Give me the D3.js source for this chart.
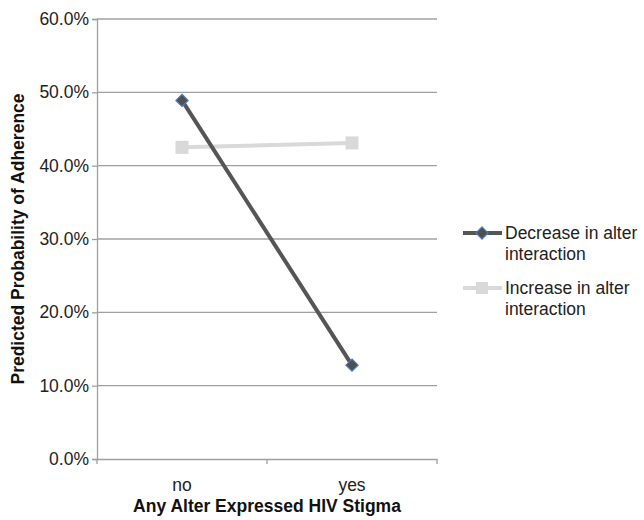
<!DOCTYPE html>
<html><head><meta charset="utf-8">
<script src="https://cdn.jsdelivr.net/npm/d3@7"></script>
<style>body{margin:0;background:#fff}svg{display:block}text{font-family:"Liberation Sans",Arial,sans-serif}</style>
</head><body><svg id="c" width="644" height="520"></svg>
<script>
const categories = ["no", "yes"];
const seriesNames = ["Decrease in alter interaction", "Increase in alter interaction"];
const decreaseValues = [0.489, 0.128];
const increaseValues = [0.425, 0.431];
const yTicks = [0, 0.1, 0.2, 0.3, 0.4, 0.5, 0.6];
const xTitle = "Any Alter Expressed HIV Stigma";
const yTitle = "Predicted Probability of Adherence";

(function () {
const svg = d3.select("#c");
const pL = 97, pR = 437, pT = 19, pB = 459;
const x = d3.scaleBand().domain(categories).range([pL, pR]);
const y = d3.scaleLinear().domain([0, 0.6]).range([pB, pT]);
const fs = 17.5;
const axisColor = "#a0a0a0";

svg.append("g").selectAll("line").data(yTicks.filter(d => d > 0)).join("line")
  .attr("x1", pL).attr("x2", pR).attr("y1", d => y(d)).attr("y2", d => y(d))
  .attr("stroke", axisColor).attr("stroke-width", 1.3);

const ya = svg.append("g").attr("transform", `translate(${pL},0)`)
  .call(d3.axisLeft(y).tickValues(yTicks).tickFormat(d3.format(".1%")).tickSize(5).tickPadding(3));
ya.select(".domain").attr("stroke", axisColor).attr("stroke-width", 1.3);
ya.selectAll(".tick line").attr("stroke", axisColor).attr("stroke-width", 1.3);
ya.selectAll("text").attr("font-size", fs).attr("fill", "#222").attr("font-family", "Liberation Sans, Arial, sans-serif");

const xa = svg.append("g").attr("transform", `translate(0,${pB})`)
  .call(d3.axisBottom(x).tickSize(0).tickPadding(20));
xa.select(".domain").attr("stroke", axisColor).attr("stroke-width", 1.3);
xa.selectAll("text").attr("font-size", fs).attr("fill", "#222").attr("font-family", "Liberation Sans, Arial, sans-serif");
const boundaries = [pL, ...categories.slice(1).map(c => x(c)), pR];
svg.append("g").selectAll("line").data(boundaries).join("line")
  .attr("x1", d => d).attr("x2", d => d).attr("y1", pB).attr("y2", pB + 5)
  .attr("stroke", axisColor).attr("stroke-width", 1.3);

svg.append("text").attr("x", (pL + pR) / 2).attr("y", 512)
  .attr("text-anchor", "middle").attr("font-weight", "bold").attr("font-size", fs).attr("fill", "#111").text(xTitle);
svg.append("text").attr("transform", `translate(24,${(pT + pB) / 2}) rotate(-90)`)
  .attr("text-anchor", "middle").attr("font-weight", "bold").attr("font-size", fs).attr("fill", "#111").text(yTitle);

const cx = c => x(c) + x.bandwidth() / 2;
const line = d3.line().x((d, i) => cx(categories[i])).y(d => y(d));

svg.append("path").datum(increaseValues).attr("d", line).attr("fill", "none")
  .attr("stroke", "#d9d9d9").attr("stroke-width", 4);
svg.append("g").selectAll("rect").data(increaseValues).join("rect")
  .attr("x", (d, i) => cx(categories[i]) - 6.5).attr("y", d => y(d) - 6.5)
  .attr("width", 13).attr("height", 13).attr("fill", "#d9d9d9");

svg.append("path").datum(decreaseValues).attr("d", line).attr("fill", "none")
  .attr("stroke", "#555555").attr("stroke-width", 4);
const diamond = d3.symbol().type(d3.symbolDiamond2).size(95);
svg.append("g").selectAll("path").data(decreaseValues).join("path")
  .attr("d", diamond)
  .attr("transform", (d, i) => `translate(${cx(categories[i])},${y(d)})`)
  .attr("fill", "#4f4f4f").attr("stroke", "#4a7ebb").attr("stroke-width", 1.2);

const legY = [233, 288];
const lg = svg.append("g");
seriesNames.forEach((name, i) => {
  const yy = legY[i];
  lg.append("line").attr("x1", 463).attr("x2", 502).attr("y1", yy).attr("y2", yy)
    .attr("stroke", i === 0 ? "#555555" : "#d9d9d9").attr("stroke-width", 4);
  if (i === 0) {
    lg.append("path").attr("d", diamond).attr("transform", `translate(482,${yy})`)
      .attr("fill", "#4f4f4f").attr("stroke", "#4a7ebb").attr("stroke-width", 1.2);
  } else {
    lg.append("rect").attr("x", 476).attr("y", yy - 6).attr("width", 12).attr("height", 12).attr("fill", "#d9d9d9");
  }
  const words = name.split(" ");
  const l1 = words.slice(0, 3).join(" "), l2 = words.slice(3).join(" ");
  const t = lg.append("text").attr("x", 505).attr("y", yy + 6).attr("font-size", fs).attr("fill", "#222");
  t.append("tspan").attr("x", 505).text(l1);
  t.append("tspan").attr("x", 505).attr("dy", 20.5).text(l2);
});
})();
</script></body></html>
